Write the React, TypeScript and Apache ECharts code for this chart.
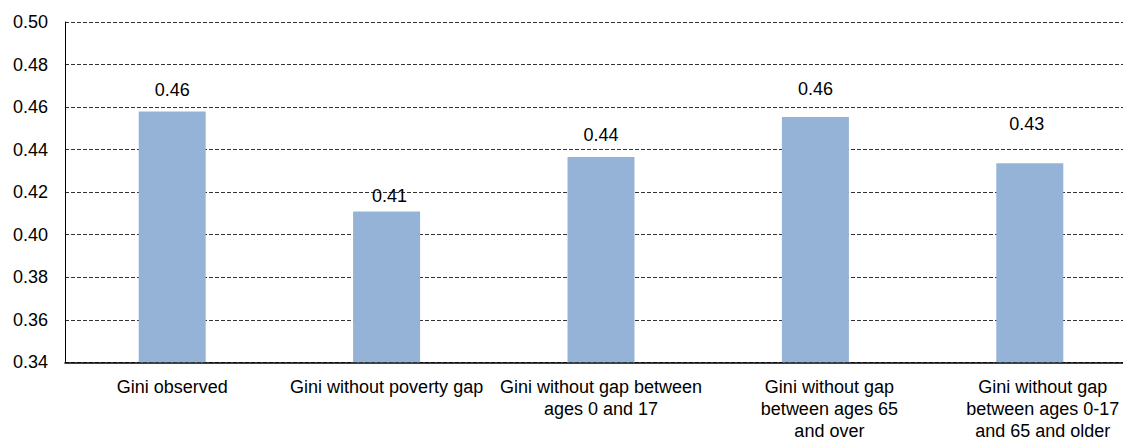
import React, { useEffect, useRef } from "react";
import * as echarts from "echarts";

// Category names, with explicit line breaks as they appear under the axis
const categories: string[] = [
  "Gini observed",
  "Gini without poverty gap",
  "Gini without gap between\nages 0 and 17",
  "Gini without gap\nbetween ages 65\nand over",
  "Gini without gap\nbetween ages 0-17\nand 65 and older",
];

// Gini coefficient for each scenario
const giniValues: number[] = [0.4579, 0.4109, 0.4365, 0.4553, 0.4336];

// Value axis range and step
const yMin = 0.34;
const yMax = 0.5;
const yStep = 0.02;

// Hand-placed data labels: gap above the bar and horizontal nudge
const labelDistance: number[] = [12.7, 6.7, 13, 19.3, 30];
const labelDx: number[] = [0, 3, 0, 0, -3];

// Extra left padding that nudges a category label to the right
const categoryLabelShift: number[] = [0, 0, 0, 28, 26];

const FONT = 'Arial, "Liberation Sans", sans-serif';

export default function App() {
  const ref = useRef<HTMLDivElement | null>(null);

  useEffect(() => {
    if (!ref.current) return;
    const chart = echarts.init(ref.current, undefined, { renderer: "svg" });

    chart.setOption({
      animation: false,
      backgroundColor: "#ffffff",
      textStyle: { fontFamily: FONT },
      grid: {
        left: 65,
        top: 22,
        right: 0,
        bottom: 78.7,
        containLabel: false,
        outerBoundsMode: "none",
      },
      xAxis: {
        type: "category",
        data: categories.map((c, i) => ({
          value: c,
          textStyle: { padding: [0, 0, 0, categoryLabelShift[i]] },
        })),
        axisLine: { show: true, lineStyle: { color: "#000", width: 1.6 } },
        axisTick: { show: false },
        axisLabel: {
          color: "#000",
          fontSize: 18,
          lineHeight: 22,
          fontFamily: FONT,
          margin: 14,
          interval: 0,
        },
      },
      yAxis: {
        type: "value",
        min: yMin,
        max: yMax,
        interval: yStep,
        axisLine: { show: true, lineStyle: { color: "#000", width: 1 } },
        axisTick: { show: false },
        axisLabel: {
          color: "#000",
          fontSize: 18,
          fontFamily: FONT,
          margin: 17,
          formatter: (v: number) => v.toFixed(2),
        },
        splitLine: {
          show: true,
          lineStyle: { color: "#333", width: 1, type: [4, 2] },
        },
      },
      series: [
        {
          type: "bar",
          barWidth: 67,
          itemStyle: { color: "#95B3D7" },
          data: giniValues.map((v, i) => ({
            value: v,
            label: {
              show: true,
              position: "top",
              distance: labelDistance[i],
              offset: [labelDx[i], 0],
              color: "#000",
              fontSize: 18,
              fontFamily: FONT,
              formatter: (p: any) => Number(p.value).toFixed(2),
            },
          })),
        },
      ],
    });

    return () => chart.dispose();
  }, []);

  // The plot area runs past the right edge of the visible frame, so the
  // chart canvas is wider than its clipping wrapper.
  return (
    <div
      style={{
        position: "absolute",
        left: 0,
        top: 0,
        width: 1123,
        height: 441,
        overflow: "hidden",
        background: "#fff",
      }}
    >
      <div ref={ref} style={{ width: 1137, height: 441 }} />
    </div>
  );
}
